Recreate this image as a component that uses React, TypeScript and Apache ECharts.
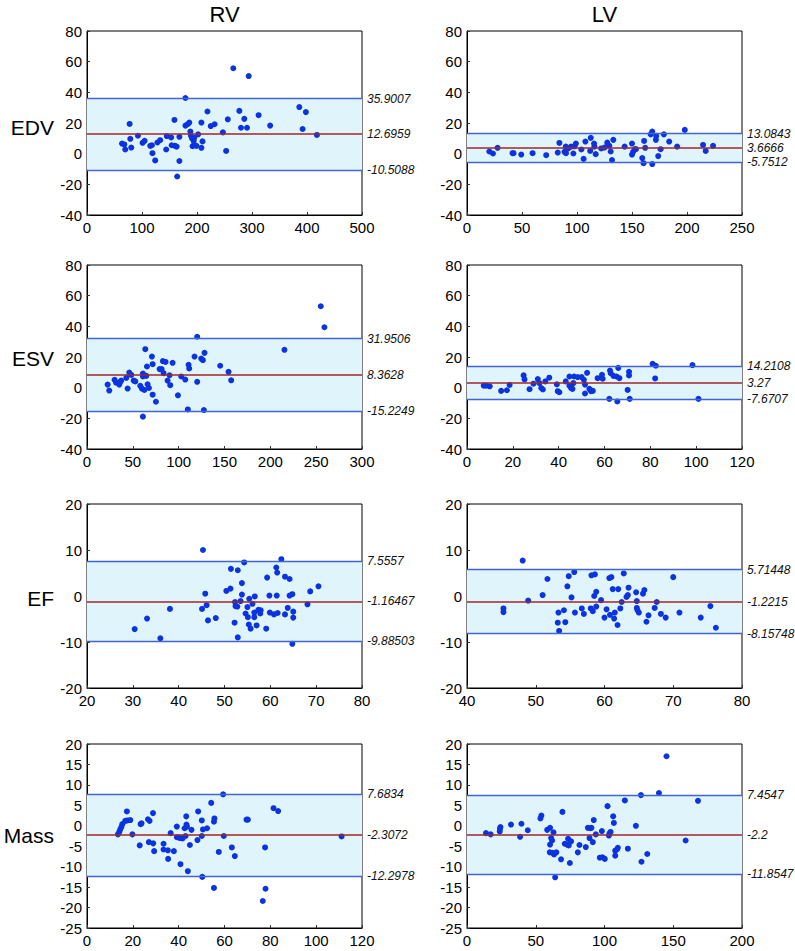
import React, { useEffect, useRef } from "react";
import * as echarts from "echarts";

const columnTitles = ["RV", "LV"];
const rowTitles = ["EDV", "ESV", "EF", "Mass"];

// [x, y] pairs
const rvEdv = [
  [63.6, 6.6], [67.8, 6.0], [69.6, 2.7], [77.5, 19.4], [78.7, 9.7], [80.5, 4.0], [92.6, 11.7], [101, 7.1],
  [104.8, 8.4], [115, 5.1], [118, 5.5], [119, 0.3], [124, -4.4], [128, 7.3], [133, 8.8], [144, 2.7],
  [145, 11.5], [153, 10.6], [154, 5.5], [159, 22.0], [160, 5.1], [163, 4.6], [164, -14.9], [168, -4.8],
  [168, 11.0], [179, 36.3], [179, 18.3], [183, 19.2], [186, 20.3], [188, 14.4], [189, 11.7], [191, 9.9],
  [192, 4.9], [194, 8.2], [195, 10.3], [199, 5.1], [202, 12.6], [208, 20.3], [208, 3.8], [210, 8.0],
  [219, 27.5], [225, 18.0], [232, 19.2], [247, 13.9], [253, 1.8], [256, 22.4], [266, 55.7], [277, 27.9],
  [280, 16.9], [286, 22.7], [291, 16.9], [294, 50.6], [312, 25.1], [333, 18.3], [386, 30.4], [392, 16.1],
  [398, 27.1], [418, 12.2],
];
const lvEdv = [
  [20.3, 1.4], [23.6, 0.1], [27.8, 3.8], [41.4, 0.3], [42.3, 0.3], [49.3, -0.6], [59.6, 0.3], [72, -1.0],
  [82.5, 0.7], [84, 7.0], [88.6, 1.2], [89.8, 4.6], [90, 0.3], [92, 3.4], [94.6, 4.6], [96.7, 0.1],
  [97.7, 4.8], [99, 6.6], [104, 2.7], [106, -3.4], [107.6, 7.9], [112, 1.8], [112.5, 10.3], [115.5, 6.6],
  [115.8, 4.6], [117, -0.3], [122, 3.4], [125, 4.0], [127.5, 7.2], [129.4, 5.1], [130.6, 1.4], [131.8, -4.2],
  [133, 9.0], [143.3, 4.6], [150, 6.6], [150, -0.6], [151, 1.2], [152.7, 2.9], [153.6, 2.9], [159.3, -2.9],
  [161, 8.3], [160.5, -6.2], [162, 3.8], [167, 12.6], [168.4, 14.4], [168.4, -6.8], [172, 11.6], [171.7, 9.0],
  [173.8, -1.6], [176, 2.9], [179, 12.6], [183.8, 7.9], [191, 4.6], [198, 15.5], [214.6, 5.7], [217, 1.8],
  [223.7, 5.1],
];
const rvEsv = [
  [22.5, 2.0], [24.3, -1.9], [30.1, 5.1], [31.6, 3.3], [35.2, 2.0], [36.3, 3.8], [37.4, 4.6], [42.9, 6.4],
  [44.3, -0.6], [46.1, 9.9], [48.3, 8.3], [50.9, 4.6], [52.7, 4.1], [58.1, 1.2], [59.9, -0.6], [61, 9.2],
  [61, 7.3], [61, -18.9], [62.5, -1.5], [63.6, 25.1], [64.7, 7.7], [65.4, 13.8], [66.1, 2.2], [67.6, -0.2],
  [70.8, 20.3], [71.6, 15.3], [71.6, -4.6], [75.2, -9.2], [79.2, 12.1], [81.4, 12.1], [82.8, 17.3], [83.5, 9.5],
  [85.7, 16.8], [87.9, 4.6], [90.1, 8.1], [90.8, 1.6], [93.4, 16.2], [99.2, -5.0], [102.8, 7.3], [107.2, 5.3],
  [110, -14.2], [110.8, 14.9], [111.5, 12.5], [117.3, 20.3], [120.2, 33.2], [120.2, 3.8], [124.6, 19.0],
  [126.4, 17.9], [127.5, -14.6], [128.2, 22.7], [145.3, 14.3], [154.4, 10.3], [157.3, 4.8], [215.4, 24.7],
  [255, 53.1], [259, 39.4],
];
const lvEsv = [
  [7.3, 1.3], [8.4, 1.3], [9.9, 0.9], [14.9, -2.1], [17.4, -1.7], [18.6, 1.8], [24.7, 8.0], [25.1, 5.4],
  [27.3, -1.0], [29, 2.6], [30.9, 5.6], [31.6, 3.0], [32.4, -0.2], [33.1, -1.2], [34.2, 4.1], [35.9, 6.5],
  [39.2, 2.2], [39.6, -2.3], [40.3, -3.0], [43.1, 4.1], [44.7, 7.3], [44.7, 1.3], [45.4, -0.2], [46, -0.8],
  [46.4, 3.0], [46.7, 7.3], [48.3, 6.9], [50, 6.9], [51, 5.1], [51.5, 2.0], [51.5, -3.8], [52.4, 9.7],
  [53.4, -0.8], [54.1, -2.3], [54.9, -2.1], [57, 6.2], [58.9, 8.4], [59.2, 5.8], [62.1, -7.3], [62.4, 11.2],
  [62.7, 9.4], [63.9, 7.7], [65.3, 7.3], [65.6, -9.0], [66, 12.9], [66.5, 6.2], [70.1, -1.5], [70.7, 10.3],
  [70.7, 8.0], [71, -7.3], [81, 15.5], [82.4, 14.3], [82.1, 6.0], [98.4, 14.7], [101, -7.3],
];
const rvEf = [
  [30.4, -7.2], [33.1, -4.9], [36.0, -9.2], [38.1, -2.8], [45.1, -2.8], [45.3, 10.0], [45.8, 0.5], [46.1, -2.0],
  [46.4, -5.3], [48.1, -4.8], [50.4, 1.1], [51.3, 1.6], [51.4, 5.9], [52.2, -5.8], [52.3, -1.3], [52.4, -2.2],
  [52.8, -2.3], [52.9, 5.6], [52.9, -9.0], [53.5, -1.1], [53.8, 0.3], [53.8, 2.8], [54.3, 7.3], [54.6, -3.8],
  [55, -2.4], [55.1, -4.6], [55.3, -6.2], [55.4, -0.6], [55.7, -7.1], [56.1, -1.7], [56.5, -3.6], [56.5, -4.6],
  [56.6, -0.1], [57, -6.4], [57.4, -3.0], [57.8, -3.8], [57.9, -3.1], [59.1, -7.1], [59.3, 4.0], [59.8, 0.1],
  [59.9, -3.6], [60.8, -4.0], [61.3, 6.2], [61.4, 0.1], [61.5, 5.1], [61.6, -3.7], [62.4, 8.0], [63.2, -4.0],
  [63.2, 4.2], [63.8, -2.6], [64.2, 3.7], [64.2, 0.1], [64.8, 0.4], [64.8, -10.4], [65, -3.4], [65, -4.7],
  [68.1, -1.8], [68.7, 1.0], [70.5, 2.1],
];
const lvEf = [
  [45.3, -2.7], [45.3, -3.5], [48.1, 7.7], [48.9, -1.0], [51, 0.2], [51.7, 3.7], [53.2, -5.8], [53.3, -3.6],
  [53.4, -7.6], [54.1, -3.1], [54.3, -5.7], [54.6, 2.1], [54.8, 4.3], [55.2, -0.3], [55.6, 5.2], [55.7, -3.6],
  [56.7, -2.7], [57, -3.9], [58, -2.7], [58.1, 4.5], [58.3, -3.3], [58.5, 0.0], [58.6, 4.7], [58.8, -2.3],
  [58.8, 0.9], [59.5, -0.9], [60, -4.7], [60.3, -2.9], [60.7, 3.9], [60.8, -4.1], [61, 4.1], [61.2, 1.5],
  [61.4, -4.9], [61.5, -3.6], [61.9, -6.3], [62, 1.5], [62.3, -2.7], [62.5, -1.3], [62.8, 4.9], [63.2, -0.2],
  [63.4, 0.2], [63.5, 1.8], [64.6, 0.8], [64.7, -1.1], [64.7, -2.6], [64.8, -3.1], [65, -3.6], [65.6, 0.5],
  [65.8, 1.3], [66.1, -5.6], [66.4, -4.2], [67.3, -2.6], [67.6, -1.3], [68.2, -3.9], [68.9, -4.7], [70, 4.1],
  [70.9, -3.6], [74, -4.7], [75.4, -2.2], [76.2, -6.9],
];
const rvMass = [
  [13.5, -2.1], [14.1, -1.5], [14.5, -0.9], [15.0, -0.3], [15.4, 0.4], [16.7, 1.2], [17.4, 3.5], [17.6, 1.3],
  [18.9, 1.4], [19.8, -2.1], [23, -4.8], [23.4, 0.4], [23.8, 0.6], [26.6, 1.6], [27.3, 1.2], [27, -4.0],
  [28.8, 3.1], [28.9, -4.3], [29.3, -6.2], [33.4, -4.4], [33.4, -5.8], [35.3, -6.0], [35.4, -8.1], [36.5, -1.8],
  [37.9, -6.2], [39.2, -0.2], [39.2, -2.8], [40.1, -2.9], [40.8, -9.4], [40.9, -3.0], [41.7, -3.1], [42.6, -0.6],
  [43, -2.5], [43.3, 2.3], [43.4, 0.3], [43.6, -0.2], [44, -11.1], [44.9, -4.7], [45.6, -1.0], [48.2, -3.5],
  [48.5, 3.5], [50.1, -2.5], [50.1, 1.3], [50.3, -12.5], [50.6, -0.9], [52.4, -0.6], [54.2, 5.6], [55.4, -15.2],
  [55.4, 1.0], [55.6, 1.8], [57.5, -6.4], [59.4, 7.7], [59.7, -2.5], [63.2, -5.3], [64.5, -7.4], [69.6, 1.5],
  [70.2, 1.5], [76.7, -18.4], [77.7, -5.3], [77.9, -15.4], [81.4, 4.3], [83.4, 3.6], [111.1, -2.6],
];
const lvMass = [
  [13.8, -1.8], [17.2, -2.1], [23.8, -1.4], [24, -0.7], [24.3, -0.3], [32, 0.3], [38.6, -2.7], [39.6, 0.5],
  [44.2, -1.1], [53.4, 1.8], [54.1, 2.5], [58.3, -1.0], [60.4, -0.5], [60.4, -4.6], [61.2, -3.0], [60.2, -6.5],
  [61.9, -3.6], [62.4, -6.6], [62.9, -1.6], [63.3, -7.0], [64.1, -12.6], [65, -6.5], [68.4, -8.2], [69.4, 3.4],
  [71.1, -4.4], [72.8, -4.6], [73.5, -3.2], [74, -4.8], [74.8, -9.1], [75.7, -3.8], [80.6, -6.5], [81.8, -4.7],
  [86.4, -5.2], [87.9, -0.5], [89.6, -0.6], [89.1, -3.0], [90.5, -0.5], [91.5, -4.0], [92.2, 1.4], [93.7, -2.1],
  [96.6, -7.8], [98.1, -1.3], [98.5, -7.7], [100.2, -8.1], [102.2, 4.8], [103.2, -2.4], [103.6, -1.9],
  [104.4, -1.5], [106.3, 2.3], [106.8, 0.7], [107.8, -7.3], [107.8, -6.1], [109, -5.8], [109.7, -5.4],
  [114.8, 6.2], [117, -5.6], [122.8, 0.0], [126.5, 7.5], [126.9, -8.8], [131.1, -6.9], [139.6, 8.0],
  [145.1, 17.0], [159, -3.6], [168, 6.1],
];

// [upper, mean, lower] limits of agreement
const rvEdvLimits = [35.9007, 12.6959, -10.5088];
const lvEdvLimits = [13.0843, 3.6666, -5.7512];
const rvEsvLimits = [31.9506, 8.3628, -15.2249];
const lvEsvLimits = [14.2108, 3.27, -7.6707];
const rvEfLimits = [7.5557, -1.16467, -9.88503];
const lvEfLimits = [5.71448, -1.2215, -8.15748];
const rvMassLimits = [7.6834, -2.3072, -12.2978];
const lvMassLimits = [7.4547, -2.2, -11.8547];

// axis ranges [min, max, interval]
const xRanges = [
  [0, 500, 100], [0, 250, 50],
  [0, 300, 50], [0, 120, 20],
  [20, 80, 10], [40, 80, 10],
  [0, 120, 20], [0, 200, 50],
];
const yRanges = [
  [-40, 80, 20], [-40, 80, 20],
  [-40, 80, 20], [-40, 80, 20],
  [-20, 20, 10], [-20, 20, 10],
  [-25, 20, 5], [-25, 20, 5],
];

const panels = [rvEdv, lvEdv, rvEsv, lvEsv, rvEf, lvEf, rvMass, lvMass];
const limits = [rvEdvLimits, lvEdvLimits, rvEsvLimits, lvEsvLimits, rvEfLimits, lvEfLimits, rvMassLimits, lvMassLimits];

const FONT = "Liberation Sans, Arial, Helvetica, sans-serif";
const colLefts = [87, 467];
const rowTops = [31, 265, 504, 744];
const PW = 275;
const PH = 184;

export default function App() {
  const ref = useRef<HTMLDivElement>(null);
  useEffect(() => {
    if (!ref.current) return;
    const chart = echarts.init(ref.current, null, { renderer: "svg" });
    const grid: any[] = [];
    const xAxis: any[] = [];
    const yAxis: any[] = [];
    const series: any[] = [];
    panels.forEach((pts, i) => {
      const r = Math.floor(i / 2);
      const c = i % 2;
      grid.push({
        left: colLefts[c], top: rowTops[r], width: PW, height: PH,
        show: true, borderColor: "#000", borderWidth: 1, backgroundColor: "transparent",
      });
      const [xmin, xmax, xint] = xRanges[i];
      const [ymin, ymax, yint] = yRanges[i];
      xAxis.push({
        gridIndex: i, type: "value", min: xmin, max: xmax, interval: xint,
        axisLine: { show: true, onZero: false, lineStyle: { color: "#000", width: 1 } },
        axisTick: { show: true, inside: true, length: 3, lineStyle: { color: "#333" } },
        splitLine: { show: false },
        axisLabel: { color: "#000", fontSize: 15, fontFamily: FONT, margin: 5 },
      });
      yAxis.push({
        gridIndex: i, type: "value", min: ymin, max: ymax, interval: yint,
        axisLine: { show: true, onZero: false, lineStyle: { color: "#000", width: 1 } },
        axisTick: { show: true, inside: true, length: 3, lineStyle: { color: "#333" } },
        splitLine: { show: false },
        axisLabel: { color: "#000", fontSize: 15, fontFamily: FONT, margin: 5 },
      });
      const [up, mean, low] = limits[i];
      series.push({
        type: "scatter", xAxisIndex: i, yAxisIndex: i, data: [], z: 1, silent: true,
        markArea: {
          silent: true,
          itemStyle: { color: "#e0f4fb" },
          data: [[{ yAxis: low }, { yAxis: up }]],
        },
        markLine: {
          silent: true, symbol: ["none", "none"], precision: 6,
          label: {
            show: true, position: "end", distance: 5, fontStyle: "italic", fontSize: 12,
            fontFamily: FONT, color: "#111",
            formatter: "{b}",
          },
          data: [
            { name: String(up), yAxis: up, lineStyle: { color: "#3f66d4", width: 1.3, type: "solid" } },
            { name: String(mean), yAxis: mean, lineStyle: { color: "#a3262b", width: 1.6, type: "solid" } },
            { name: String(low), yAxis: low, lineStyle: { color: "#3f66d4", width: 1.3, type: "solid" } },
          ],
        },
      });
      series.push({
        type: "scatter", xAxisIndex: i, yAxisIndex: i, data: pts, z: 3,
        symbol: "circle", symbolSize: 6,
        itemStyle: { color: "#0b33e0", opacity: 1 },
      });
    });
    const graphic: any[] = [];
    columnTitles.forEach((t, c) => {
      graphic.push({
        type: "text", x: colLefts[c] + PW / 2, y: 14,
        style: { text: t, fontSize: 22, fontFamily: FONT, fill: "#000", textAlign: "center", textVerticalAlign: "middle" },
      });
    });
    const rowCenters = [127, 358, 598, 835];
    rowTitles.forEach((t, r) => {
      graphic.push({
        type: "text", x: 54, y: rowCenters[r],
        style: { text: t, fontSize: 21, fontFamily: FONT, fill: "#000", textAlign: "right", textVerticalAlign: "middle" },
      });
    });
    chart.setOption({
      animation: false,
      backgroundColor: "#fff",
      grid, xAxis, yAxis, series, graphic,
    });
    return () => chart.dispose();
  }, []);
  return (
    <div
      ref={ref}
      style={{ position: "fixed", left: 0, top: 0, width: 795, height: 951 }}
    />
  );
}
